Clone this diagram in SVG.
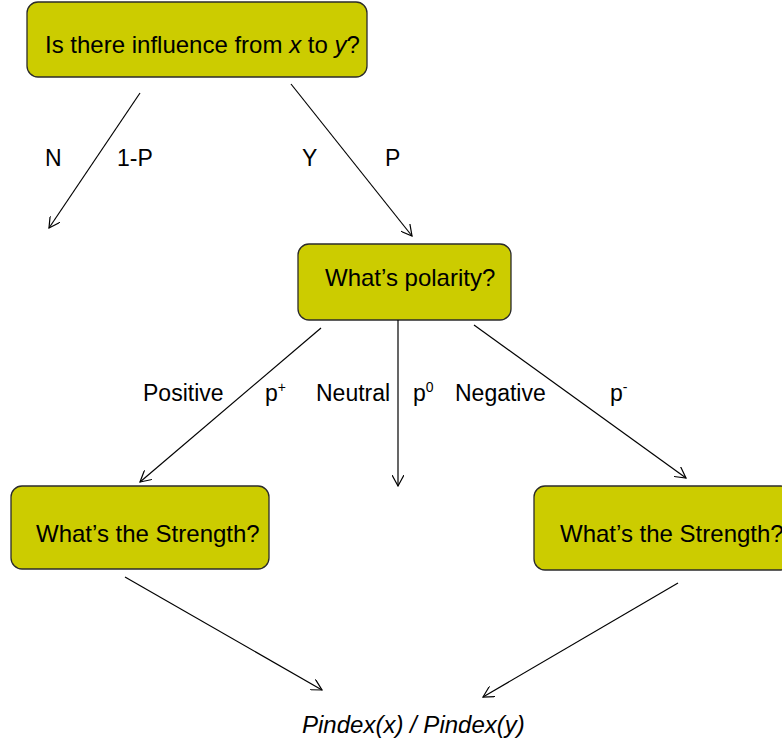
<svg xmlns="http://www.w3.org/2000/svg" width="782" height="746" viewBox="0 0 782 746">
<style>
.box{fill:#CCCC00;stroke:#2b2b2b;stroke-width:1.3}
.t{font-family:"Liberation Sans",Arial,sans-serif;font-size:24px;fill:#000}
.l{font-family:"Liberation Sans",Arial,sans-serif;font-size:23px;fill:#000}
.c{stroke:#000;stroke-width:1.2;fill:none;marker-end:url(#arr)}
</style>
<defs>
<marker id="arr" viewBox="0 0 12 12" refX="11" refY="6" markerWidth="12" markerHeight="12" markerUnits="userSpaceOnUse" orient="auto">
<path d="M0,0 L11,6 L0,12" fill="none" stroke="#000" stroke-width="1.2"/>
</marker>
</defs>
<rect width="782" height="746" fill="#fff"/>
<g id="node-influence">
<rect class="box" x="27" y="2" width="340" height="75" rx="11"/>
<text class="t" x="45" y="53">Is there influence from <tspan font-style="italic">x</tspan> to <tspan font-style="italic">y</tspan>?</text>
</g>
<g id="node-polarity">
<rect class="box" x="298" y="244" width="213" height="76" rx="11"/>
<text class="t" x="325" y="286">What’s polarity?</text>
</g>
<g id="node-strength-left">
<rect class="box" x="11" y="486" width="258" height="83" rx="11"/>
<text class="t" x="36" y="542">What’s the Strength?</text>
</g>
<g id="node-strength-right">
<rect class="box" x="534" y="486" width="258" height="84" rx="11"/>
<text class="t" x="560" y="542">What’s the Strength?</text>
</g>
<g id="node-pindex">
<text class="t" x="302" y="733" font-style="italic">Pindex(x) / Pindex(y)</text>
</g>
<g id="connectors">
<line class="c" x1="140" y1="93" x2="49" y2="228"/>
<line class="c" x1="291" y1="84" x2="412" y2="236"/>
<line class="c" x1="321" y1="328" x2="140" y2="482"/>
<line class="c" x1="398" y1="320" x2="398" y2="486"/>
<line class="c" x1="474" y1="325" x2="686" y2="478"/>
<line class="c" x1="125" y1="577" x2="322" y2="690"/>
<line class="c" x1="678" y1="583" x2="483" y2="697"/>
</g>
<g id="labels">
<text class="l" x="45" y="166">N</text>
<text class="l" x="117" y="166">1-P</text>
<text class="l" x="302" y="166">Y</text>
<text class="l" x="385" y="166">P</text>
<text class="l" x="143" y="401">Positive</text>
<text class="l" x="265" y="401">p<tspan font-size="14" dy="-9">+</tspan></text>
<text class="l" x="316" y="401">Neutral</text>
<text class="l" x="413" y="401">p<tspan font-size="14" dy="-9">0</tspan></text>
<text class="l" x="455" y="401">Negative</text>
<text class="l" x="610" y="401">p<tspan font-size="14" dy="-9">-</tspan></text>
</g>
</svg>
